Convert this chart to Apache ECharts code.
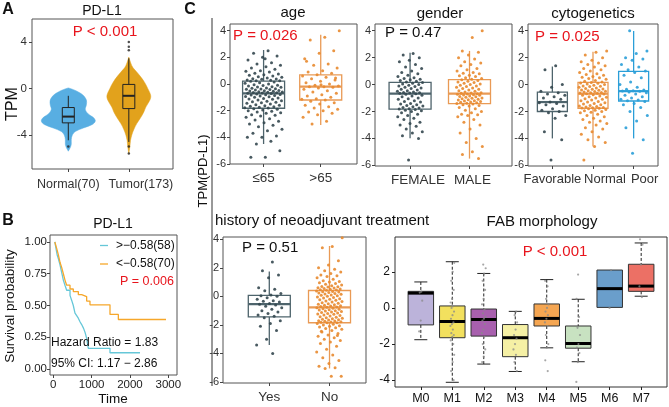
<!DOCTYPE html>
<html><head><meta charset="utf-8">
<script src="https://cdn.jsdelivr.net/npm/echarts@6/dist/echarts.min.js"></script>
<style>html,body{margin:0;padding:0;background:#fff}#c{width:669px;height:407px}</style>
</head><body><div id="c"></div><script>
const FONT = '"Liberation Sans", Arial, Helvetica, sans-serif';
const RED = '#E8141C';

// ---------- Panel A : violin ----------
const aCategories = ['Normal(70)', 'Tumor(173)'];
const aYTicks = [-4, 0, 4];
const normalViolinValues = [0.05,-0.1,-0.3,-0.6,-1.0,-1.4,-1.8,-2.2,-2.5,-2.8,-3.1,-3.4,-3.7,-4.0,-4.4,-4.8,-5.1,-5.4];
const normalViolinDensity = [0,0.19,0.37,0.56,0.67,0.67,0.63,0.74,0.93,1,0.89,0.56,0.26,0.15,0.11,0.11,0.07,0];
const tumorViolinValues = [2.7,2.2,1.8,1.4,1.0,0.5,0,-0.6,-1.0,-1.6,-2.0,-2.5,-3.0,-3.5,-4.0,-4.5,-5.0,-5.6];
const tumorViolinDensity = [0,0.07,0.15,0.3,0.44,0.59,0.7,0.81,0.78,0.63,0.56,0.44,0.3,0.19,0.11,0.06,0.04,0];
const aBoxStats = [[-4.46,-2.96,-2.42,-1.64,-0.63],[-4.6,-1.73,-0.63,0.35,2.6]];
const normalOutliers = [-5.0];
const tumorOutliers = [4.0,3.6,3.3,-5.0,-5.6];

// ---------- Panel B : Kaplan-Meier ----------
const kmHighLabel = '>\u22120.58(58)';
const kmLowLabel = '<\u22120.58(70)';
const kmHighTime = [40,70,100,131,175,218,262,305,349,436,480,522,566,610,653,700,740,790,827,871,914,1479,2262];
const kmHighSurv = [1.00,0.95,0.90,0.87,0.82,0.76,0.70,0.66,0.62,0.58,0.54,0.50,0.44,0.42,0.40,0.37,0.35,0.32,0.29,0.24,0.163,0.128,0.128];
const kmLowTime = [40,88,131,175,218,262,305,349,436,522,653,740,870,957,1479,1697,2940];
const kmLowSurv = [1.00,0.95,0.90,0.84,0.80,0.75,0.70,0.66,0.63,0.61,0.585,0.57,0.535,0.505,0.43,0.39,0.39];
const kmXTicks = [0,1000,2000,3000];
const kmYTicks = [0,0.25,0.5,0.75,1];

// ---------- Panel C ----------
const cYTicks = [-6,-4,-2,0,2,4];
const ageCategories = ['\u226465','>65'];
const ageLe65Values = [2.5,2.3,2.1,2.0,1.8,1.6,1.5,1.4,1.3,1.2,1.1,1.0,0.95,0.9,0.8,0.75,0.7,0.65,0.6,0.55,0.5,0.45,0.4,0.38,0.35,0.3,0.28,0.25,0.24,1.9,
 0.2,0.15,0.1,0.05,0.0,-0.05,-0.1,-0.12,-0.15,-0.2,-0.22,-0.25,-0.3,-0.32,-0.35,-0.38,-0.4,-0.42,-0.45,-0.48,-0.5,-0.52,-0.55,-0.58,-0.6,-0.62,-0.64,-0.66,-0.68,-0.7,
 -0.72,-0.75,-0.78,-0.8,-0.83,-0.86,-0.9,-0.93,-0.96,-1.0,-1.05,-1.08,-1.12,-1.15,-1.2,-1.25,-1.3,-1.33,-1.37,-1.4,-1.45,-1.5,-1.55,-1.6,-1.63,-1.67,-1.7,-1.74,-1.78,-1.8,
 -1.85,-1.9,-1.95,-2.0,-2.05,-2.1,-2.15,-2.2,-2.3,-2.35,-2.4,-2.5,-2.6,-2.7,-2.8,-2.9,-3.0,-3.1,-3.2,-3.4,-3.5,-3.7,-3.9,-4.0,-4.0,-4.3,-4.5,-5.0,-5.5,-5.5];
const ageGt65Values = [4.0,3.5,3.3,2.5,2.3,1.9,1.5,1.4,1.2,1.0,0.9,0.8,0.7,0.6,0.5,0.4,0.3,0.2,0.1,0.0,-0.1,-0.15,-0.2,-0.2,-0.25,
 -0.3,-0.4,-0.5,-0.6,-0.7,-0.8,-0.9,-1.0,-1.1,-1.15,-1.2,-1.3,-1.4,-1.5,-1.6,-1.7,-1.8,-1.9,-2.0,-2.1,-2.2,-2.3,-2.5,-2.8,-3.0,0.45,-0.05,1.7];
const ageBoxStats = [[-4.5,-1.82,-0.7,0.22,2.55],[-3.08,-1.2,-0.2,0.68,3.7]];

const genderCategories = ['FEMALE','MALE'];
const femaleValues = [2.3,2.2,2.0,1.8,1.7,1.5,1.3,1.2,1.0,0.9,0.8,0.7,0.6,0.5,0.45,0.4,0.35,0.3,0.25,0.2,
 0.15,0.1,0.05,0.0,-0.05,-0.1,-0.15,-0.2,-0.25,-0.3,-0.35,-0.4,-0.45,-0.5,-0.55,-0.58,-0.6,-0.63,-0.65,-0.68,
 -0.72,-0.8,-0.85,-0.9,-1.0,-1.05,-1.1,-1.2,-1.25,-1.3,-1.4,-1.45,-1.5,-1.55,-1.6,-1.65,-1.7,-1.75,-1.8,-1.82,
 -1.85,-1.9,-1.95,-2.0,-2.1,-2.2,-2.3,-2.4,-2.5,-2.6,-2.8,-2.9,-3.0,-3.1,-3.3,-3.5,-3.6,-3.8,-4.0,-5.6];
const maleValues = [4.0,3.5,2.5,2.4,2.2,2.0,1.9,1.7,1.6,1.5,1.4,1.2,1.1,1.0,0.9,0.85,0.8,0.7,0.65,0.6,0.5,0.45,0.4,
 0.35,0.3,0.25,0.2,0.15,0.1,0.05,0.0,-0.05,-0.1,-0.15,-0.2,-0.25,-0.3,-0.35,-0.4,-0.45,-0.5,-0.55,-0.6,-0.62,-0.65,-0.68,
 -0.7,-0.72,-0.75,-0.78,-0.8,-0.85,-0.88,-0.9,-0.95,-1.0,-1.02,-1.05,-1.1,-1.12,-1.15,-1.2,-1.22,-1.25,-1.3,-1.32,-1.35,-1.38,-1.4,
 -1.45,-1.5,-1.55,-1.6,-1.7,-1.8,-1.9,-2.0,-2.1,-2.2,-2.25,-2.3,-2.4,-2.6,-2.8,-3.0,-3.3,-3.6,-4.0,-4.3,-4.6,-5.0,-5.2,-5.5];
const genderBoxStats = [[-3.98,-1.83,-0.68,0.17,2.37],[-5.5,-1.41,-0.68,0.37,2.5]];

const cytoCategories = ['Favorable','Normal','Poor'];
const favorableValues = [1.4,1.1,0.0,-0.2,-0.5,-0.6,-0.7,-0.8,-0.9,-1.0,-1.1,-1.3,-1.35,-1.4,-1.5,-1.6,-1.8,-1.9,-2.0,-2.1,-2.3,-2.5,-3.5,-4.1,-5.6];
const normalCytoValues = [2.5,2.4,2.2,2.0,1.8,1.7,1.6,1.5,1.4,1.3,1.2,1.1,1.0,0.9,0.8,0.75,0.7,0.6,0.55,0.5,0.45,0.4,0.3,0.25,0.2,
 0.15,0.12,0.1,0.05,0.0,-0.05,-0.1,-0.12,-0.15,-0.2,-0.25,-0.3,-0.33,-0.35,-0.4,-0.42,-0.45,-0.5,-0.52,-0.55,-0.58,-0.6,-0.63,-0.65,-0.68,
 -0.7,-0.75,-0.8,-0.85,-0.9,-0.95,-1.0,-1.05,-1.1,-1.15,-1.2,-1.25,-1.3,-1.35,-1.4,-1.45,-1.5,-1.55,-1.6,-1.63,-1.66,-1.7,-1.72,-1.74,-1.76,
 -1.8,-1.85,-1.9,-1.95,-2.0,-2.05,-2.1,-2.2,-2.3,-2.4,-2.5,-2.6,-2.7,-2.8,-2.9,-3.0,-3.2,-3.3,-3.5,-3.7,-3.9,-4.1,-4.3,-4.6,-5.6];
const poorValues = [4.0,2.5,2.3,2.0,1.9,1.8,1.5,1.3,1.1,1.0,0.9,0.7,0.5,0.2,0.0,-0.2,-0.35,-0.4,-0.45,-0.48,
 -0.5,-0.55,-0.6,-0.7,-0.8,-0.9,-1.0,-1.1,-1.15,-1.2,-1.25,-1.4,-1.5,-1.7,-2.0,-2.3,-2.7,-3.2,-4.1,-5.1];
const cytoBoxStats = [[-4.0,-2.0,-1.3,-0.56,1.34],[-4.6,-1.76,-0.68,0.17,2.44],[-4.0,-1.22,-0.49,0.98,3.98]];

const neoCategories = ['Yes','No'];
const neoYesValues = [2.4,1.8,1.5,1.3,0.6,0.5,0.4,0.2,0.1,0.05,0.0,-0.1,-0.2,-0.3,-0.35,-0.4,-0.5,-0.55,
 -0.6,-0.7,-0.8,-0.9,-1.0,-1.1,-1.2,-1.3,-1.4,-1.5,-1.7,-1.9,-2.1,-2.4,-3.0,-3.4,-4.0];
const neoNoValues = [4.1,3.5,3.4,2.5,2.2,2.0,1.9,1.8,1.7,1.6,1.5,1.45,1.4,1.3,1.2,1.1,1.05,1.0,0.95,0.9,0.85,0.8,0.75,0.7,0.68,0.65,0.6,0.58,0.55,0.52,0.5,0.47,0.45,0.43,
 0.38,0.35,0.32,0.3,0.27,0.24,0.2,0.17,0.14,0.1,0.07,0.04,0.0,-0.04,-0.08,-0.12,-0.16,-0.2,-0.24,-0.28,-0.32,-0.36,-0.4,-0.44,-0.48,-0.52,-0.55,-0.58,-0.62,-0.65,-0.68,-0.71,-0.74,-0.77,
 -0.8,-0.83,-0.86,-0.9,-0.93,-0.96,-1.0,-1.03,-1.06,-1.1,-1.13,-1.16,-1.2,-1.23,-1.26,-1.3,-1.34,-1.38,-1.42,-1.46,-1.5,-1.53,-1.56,-1.6,-1.63,-1.66,-1.7,-1.72,-1.75,-1.78,-1.8,-1.82,-1.84,-1.85,
 -1.9,-1.95,-2.0,-2.05,-2.1,-2.15,-2.2,-2.25,-2.3,-2.4,-2.5,-2.6,-2.7,-2.8,-2.9,-3.0,-3.1,-3.2,-3.3,-3.5,-3.7,-3.9,-4.1,-4.3,-4.5,-4.7,-4.9,-5.0,-5.05,-5.6,-5.6,-2.45,-2.75];
const neoBoxStats = [[-3.41,-1.44,-0.55,0.07,1.75],[-5.05,-1.85,-0.77,0.41,3.53]];

const fabCategories = ['M0','M1','M2','M3','M4','M5','M6','M7'];
const fabYTicks = [-4,-2,0,2];
const fabBoxStats = [[-1.76,-0.94,0.82,0.92,1.44],[-4.12,-1.65,-0.75,0.11,2.56],[-3.11,-1.56,-0.64,-0.06,1.91],[-3.52,-2.7,-1.65,-0.92,-0.19],
 [-2.21,-1.0,-0.58,0.22,1.57],[-2.98,-2.23,-1.97,-1.0,0.48],[0.03,0.03,1.07,2.1,2.1],[0.65,0.92,1.21,2.42,3.6]];
const fabM0 = [0.9,0.85,0.4,-0.7,-1.3];
const fabM1 = [2.5,2.0,1.5,1.0,0.5,0.3,0.1,0,-0.2,-0.4,-0.6,-0.8,-0.9,-1.0,-1.2,-1.4,-1.5,-1.6,-1.8,-2.0,-2.3,-2.6,-3.0,-3.5,-4.0];
const fabM2 = [2.4,2.2,1.9,1.5,1.0,0.5,0.2,-0.1,-0.3,-0.5,-0.6,-0.7,-0.9,-1.2,-1.4,-1.6,-2.0,-2.3,-2.7,-3.0];
const fabM3 = [-0.2,-0.4,-0.8,-1.2,-1.5,-1.7,-2.0,-2.3,-2.6,-3.0,-3.5];
const fabM4 = [1.5,1.2,0.5,0.2,0.0,-0.2,-0.4,-0.6,-0.8,-1.0,-1.5,-2.0,-2.2,-2.9,-3.5];
const fabM5 = [1.85,0.5,-0.5,-1.1,-1.5,-2.0,-2.2,-2.5,-3.0,-4.1];
const fabM6 = [2.1,0.0];
const fabM7 = [3.8,3.5,2.4,1.2,0.6];

// ---------- layout & style ----------
const L = {
  A:   {left:32, top:19, width:141, height:150, xmin:0.4, xmax:2.73, ymin:-6.93, ymax:5.98},
  KM:  {left:50, top:235, width:127, height:140, xmin:-86, xmax:3227, ymin:-0.047, ymax:1.055},
  age: {left:230, top:24, width:127, height:140, xmin:0.412, xmax:2.635, ymin:-6.0, ymax:4.5},
  gen: {left:375, top:24, width:137, height:142, xmin:0.41, xmax:2.715, ymin:-6.05, ymax:4.5},
  cyto:{left:528, top:24, width:130, height:142, xmin:0.4, xmax:3.6, ymin:-6.05, ymax:4.5},
  neo: {left:223, top:237, width:143, height:146, xmin:0.231, xmax:2.606, ymin:-6.07, ymax:4.16},
  fab: {left:395, top:237, width:272, height:150, xmin:0.18, xmax:8.82, ymin:-4.38, ymax:3.93}
};
const DARK = '#34474F', DARKBOX = '#4E646C', ORANGE = '#E8892F', ORANGEBOX = '#E99A55', BLUE = '#2A9ED8';
const fabColors = ['#BCB3DA','#F2E05E','#A860AE','#F5F0A5','#F5A652','#C8E2C1','#6A9ECB','#EC7065'];
const shiftRich = (px, size) => ({fontSize:size, fontFamily:FONT, color:'#333', padding:[0,0,0,px]});

const grids = [], xAxes = [], yAxes = [], series = [], extraXAxes = [];
function xAxisDef(gi, p, o, labelValues, showTicks) {
  return {type:'value', gridIndex:gi, min:p.xmin, max:p.xmax, position:'bottom', offset:0,
    axisLine:{show:false, onZero:false}, splitLine:{show:false},
    axisTick:{show:showTicks, customValues:o.xticks, length:3, lineStyle:{color:o.tickColor || '#444', width:1}},
    axisLabel:{show:true, customValues:labelValues, formatter:o.xfmt, margin:o.xMargin, fontSize:o.xFont,
      color:o.labelColor || '#222', fontFamily:FONT, rich:o.xrich || {}, hideOverlap:false, showMinLabel:true, showMaxLabel:true}};
}
function addPanel(p, o) {
  const gi = grids.length;
  grids.push({left:p.left, top:p.top, width:p.width, height:p.height, show:true,
    borderColor:o.border || '#555', borderWidth:1, backgroundColor:'rgba(0,0,0,0)', containLabel:false, outerBoundsMode:'none'});
  xAxes.push(xAxisDef(gi, p, o, o.xlabels || o.xticks, true));
  if (o.xlabels2) extraXAxes.push(xAxisDef(gi, p, o, o.xlabels2, false));
  yAxes.push({type:'value', gridIndex:gi, min:p.ymin, max:p.ymax, position:'left',
    axisLine:{show:false, onZero:false}, splitLine:{show:false},
    axisTick:{show:true, customValues:o.yticks, length:3, lineStyle:{color:o.tickColor || '#444', width:1}},
    axisLabel:{show:true, customValues:o.yticks, formatter:o.yfmt || (v => String(v)), margin:o.yMargin, fontSize:o.yFont,
      color:o.labelColor || '#222', fontFamily:FONT, hideOverlap:false, showMinLabel:true, showMaxLabel:true}});
  return gi;
}

function boxSeries(gi, stats, cfg) {
  return {type:'custom', xAxisIndex:gi, yAxisIndex:gi, coordinateSystem:'cartesian2d', z:cfg.z || 3, silent:true,
    data: stats.map((s, i) => [i + 1].concat(s)),
    encode:{x:0, y:[1,2,3,4,5]},
    renderItem: (params, api) => {
      const i = params.dataIndex, x = api.value(0);
      const P = k => api.coord([x, api.value(k)]);
      const pMin = P(1), pQ1 = P(2), pMd = P(3), pQ3 = P(4), pMax = P(5);
      const cx = pMd[0], hw = cfg.hw;
      const lc = cfg.lineColors[i];
      const ws = {stroke:cfg.whiskerColor || lc, lineWidth:cfg.lw, lineDash:cfg.dash || null};
      const ch = [];
      if (pQ3[1] - pMax[1] > 0.5) ch.push({type:'line', shape:{x1:cx, y1:pMax[1], x2:cx, y2:pQ3[1]}, style:ws});
      if (pMin[1] - pQ1[1] > 0.5) ch.push({type:'line', shape:{x1:cx, y1:pQ1[1], x2:cx, y2:pMin[1]}, style:ws});
      if (cfg.capHw) {
        if (pQ3[1] - pMax[1] > 0.5) ch.push({type:'line', shape:{x1:cx - cfg.capHw, y1:pMax[1], x2:cx + cfg.capHw, y2:pMax[1]}, style:{stroke:cfg.whiskerColor, lineWidth:cfg.lw}});
        if (pMin[1] - pQ1[1] > 0.5) ch.push({type:'line', shape:{x1:cx - cfg.capHw, y1:pMin[1], x2:cx + cfg.capHw, y2:pMin[1]}, style:{stroke:cfg.whiskerColor, lineWidth:cfg.lw}});
      }
      ch.push({type:'rect', shape:{x:cx - hw, y:pQ3[1], width:2 * hw, height:pQ1[1] - pQ3[1]},
        style:{fill:cfg.fills ? cfg.fills[i] : 'rgba(0,0,0,0)', stroke:lc, lineWidth:cfg.lw}});
      ch.push({type:'line', shape:{x1:cx - hw, y1:pMd[1], x2:cx + hw, y2:pMd[1]}, style:{stroke:cfg.medColor || lc, lineWidth:cfg.medW}});
      return {type:'group', children:ch};
    }};
}

function jitterSeries(gi, p, groups, colors, jitterPx, size, opacity) {
  const upp = (p.xmax - p.xmin) / p.width;
  groups.forEach((vals, g) => {
    const data = vals.map((v, k) => {
      const frac = ((k + 1) * 0.6180339887 + g * 0.37) % 1;
      return [g + 1 + (frac - 0.5) * 2 * jitterPx * upp, v];
    });
    series.push({type:'scatter', xAxisIndex:gi, yAxisIndex:gi, data, symbolSize:size, z:5, silent:true,
      itemStyle:{color:colors[g], opacity:opacity}});
  });
}

// ---- Panel A ----
const gA = addPanel(L.A, {xticks:[1,2], yticks:aYTicks, xFont:12.5, yFont:11.5, xMargin:9, yMargin:5, labelColor:'#333',
  xfmt: v => v === 2 ? '{r|' + aCategories[1] + '}' : aCategories[0],
  xrich:{r:shiftRich(24, 12.5)}});
const violinValues = [normalViolinValues, tumorViolinValues];
const violinDensity = [normalViolinDensity, tumorViolinDensity];
const violinColors = ['#58AEE2', '#E2A21C'];
series.push({type:'custom', xAxisIndex:gA, yAxisIndex:gA, coordinateSystem:'cartesian2d', z:2, silent:true,
  data:[[1, 0], [2, 0]], encode:{x:0, y:1},
  renderItem:(params, api) => {
    const i = params.dataIndex, x = api.value(0);
    const vals = violinValues[i], dens = violinDensity[i];
    const right = [], left = [];
    vals.forEach((v, k) => {
      const c = api.coord([x, v]);
      right.push([c[0] + dens[k] * 27, c[1]]);
      left.push([c[0] - dens[k] * 27, c[1]]);
    });
    return {type:'polygon', shape:{points:right.concat(left.reverse()), smooth:0.35},
      style:{fill:violinColors[i], stroke:violinColors[i], lineWidth:0.5}};
  }});
series.push(boxSeries(gA, aBoxStats, {hw:6, lineColors:['#222','#222'], lw:1, medW:2}));
series.push({type:'scatter', xAxisIndex:gA, yAxisIndex:gA, symbolSize:2.5, z:5, silent:true, itemStyle:{color:'#222'},
  data: normalOutliers.map(v => [1, v]).concat(tumorOutliers.map(v => [2, v]))});

// ---- Panel B ----
const gB = addPanel(L.KM, {xticks:kmXTicks, yticks:kmYTicks, xFont:11.5, yFont:11.5, xMargin:4, yMargin:3, labelColor:'#222',
  yfmt: v => v.toFixed(2), xfmt: v => String(v)});
series.push({type:'line', xAxisIndex:gB, yAxisIndex:gB, step:'end', symbol:'none', z:4, silent:true,
  data: kmHighTime.map((t, i) => [t, kmHighSurv[i]]), lineStyle:{color:'#66C7D8', width:1.3}});
series.push({type:'line', xAxisIndex:gB, yAxisIndex:gB, step:'end', symbol:'none', z:4, silent:true,
  data: kmLowTime.map((t, i) => [t, kmLowSurv[i]]), lineStyle:{color:'#F6A72B', width:1.3}});

// ---- Panel C ----
const cOpt = (cats, xFont, shifts) => ({xticks:cats.map((c, i) => i + 1), yticks:cYTicks, xFont:xFont, yFont:11, xMargin:7, yMargin:4,
  labelColor:'#333',
  xrich: Object.fromEntries(cats.map((c, i) => ['s' + i, shiftRich(shifts ? shifts[i] : 0, xFont)])),
  xfmt: v => { const i = Math.round(v) - 1; return '{s' + i + '|' + cats[i] + '}'; }});
const gAge = addPanel(L.age, cOpt(ageCategories, 13.5));
series.push(boxSeries(gAge, ageBoxStats, {hw:21, lineColors:[DARKBOX, ORANGEBOX], lw:1.3, medW:2.2}));
jitterSeries(gAge, L.age, [ageLe65Values, ageGt65Values], [DARK, ORANGE], 19, 3, 0.9);

const gGen = addPanel(L.gen, cOpt(genderCategories, 13.5, [16, 6]));
series.push(boxSeries(gGen, genderBoxStats, {hw:21, lineColors:[DARKBOX, ORANGEBOX], lw:1.3, medW:2.2}));
jitterSeries(gGen, L.gen, [femaleValues, maleValues], [DARK, ORANGE], 13, 3, 0.9);

const cytoOpt = cOpt(cytoCategories, 13, [0, 24, 22]);
cytoOpt.xlabels = [1, 3];
cytoOpt.xlabels2 = [2];
const gCyto = addPanel(L.cyto, cytoOpt);
series.push(boxSeries(gCyto, cytoBoxStats, {hw:15, lineColors:[DARKBOX, ORANGEBOX, BLUE], lw:1.3, medW:2.2}));
jitterSeries(gCyto, L.cyto, [favorableValues, normalCytoValues, poorValues], [DARK, ORANGE, BLUE], 14, 3, 0.9);

const gNeo = addPanel(L.neo, cOpt(neoCategories, 13.5));
series.push(boxSeries(gNeo, neoBoxStats, {hw:21, lineColors:[DARKBOX, ORANGEBOX], lw:1.3, medW:2.2}));
jitterSeries(gNeo, L.neo, [neoYesValues, neoNoValues], [DARK, ORANGE], 13, 3, 0.9);

const gFab = addPanel(L.fab, {xticks:fabCategories.map((c, i) => i + 1), yticks:fabYTicks, xFont:12.5, yFont:12, xMargin:5, yMargin:5,
  labelColor:'#111', border:'#333', tickColor:'#222', xfmt: v => fabCategories[Math.round(v) - 1]});
series.push(boxSeries(gFab, fabBoxStats, {hw:12.75, capHw:6.5, lineColors:fabCategories.map(() => '#333'), fills:fabColors,
  whiskerColor:'#222', dash:[3, 2], lw:1, medW:3, medColor:'#000'}));
jitterSeries(gFab, L.fab, [fabM0, fabM1, fabM2, fabM3, fabM4, fabM5, fabM6, fabM7], fabCategories.map(() => '#8a8a8a'), 2, 2.2, 0.75);

// ---- texts ----
function txt(text, x, y, o) {
  o = o || {};
  return {type:'text', x:x, y:y, rotation:o.rot || 0, z:100, silent:true,
    style:{text:text, fill:o.color || '#111', fontSize:o.size || 13, fontFamily:FONT, fontWeight:o.bold ? 'bold' : 'normal',
      textAlign:o.align || 'center', textVerticalAlign:'middle', verticalAlign:'middle'}};
}
function seg(x1, y1, x2, y2, color, w) {
  return {type:'line', z:100, silent:true, shape:{x1, y1, x2, y2}, style:{stroke:color, lineWidth:w}};
}
const graphics = [
  txt('A', 8, 10, {bold:true, size:16}),
  txt('PD-L1', 102, 11, {size:14}),
  txt('P < 0.001', 105, 32, {size:15, color:RED}),
  txt('TPM', 13, 104, {size:16, rot:Math.PI / 2}),
  txt('B', 8, 221, {bold:true, size:16}),
  txt('PD-L1', 113, 224, {size:14}),
  txt('Survival probability', 10, 306, {size:13.5, rot:Math.PI / 2}),
  txt('Time', 113, 399, {size:13.5}),
  seg(100, 245.5, 108, 245.5, '#66C7D8', 1.3),
  seg(100, 264, 108, 264, '#F6A72B', 1.3),
  txt(kmHighLabel, 116, 245.5, {size:12, align:'left'}),
  txt(kmLowLabel, 116, 264, {size:12, align:'left'}),
  txt('P = 0.006', 120, 281.5, {size:12.5, color:RED, align:'left'}),
  txt('Hazard Ratio = 1.83', 51, 343, {size:12, align:'left'}),
  txt('95% CI: 1.17 \u2212 2.86', 51, 364, {size:12, align:'left'}),
  txt('C', 190, 10, {bold:true, size:16}),
  txt('TPM(PD-L1)', 203, 171, {size:13, rot:Math.PI / 2}),
  seg(212, 18, 212, 386, '#333', 1),
  txt('age', 293, 13, {size:15}),
  txt('P = 0.026', 233, 36, {size:15, color:RED, align:'left'}),
  txt('gender', 440, 14, {size:15}),
  txt('P = 0.47', 385, 33, {size:15, align:'left'}),
  txt('cytogenetics', 593, 14, {size:15}),
  txt('P = 0.025', 535, 36.5, {size:15, color:RED, align:'left'}),
  txt('history of neoadjuvant treatment', 215, 221, {size:15, align:'left'}),
  txt('FAB morphology', 542, 221.5, {size:15}),
  txt('P = 0.51', 242, 248, {size:15, align:'left'}),
  txt('P < 0.001', 555, 251.5, {size:15, color:RED})
];

const chart = echarts.init(document.getElementById('c'), null, {renderer:'canvas'});
chart.setOption({animation:false, backgroundColor:'#fff', grid:grids, xAxis:xAxes.concat(extraXAxes), yAxis:yAxes, series:series, graphic:graphics});
</script></body></html>
